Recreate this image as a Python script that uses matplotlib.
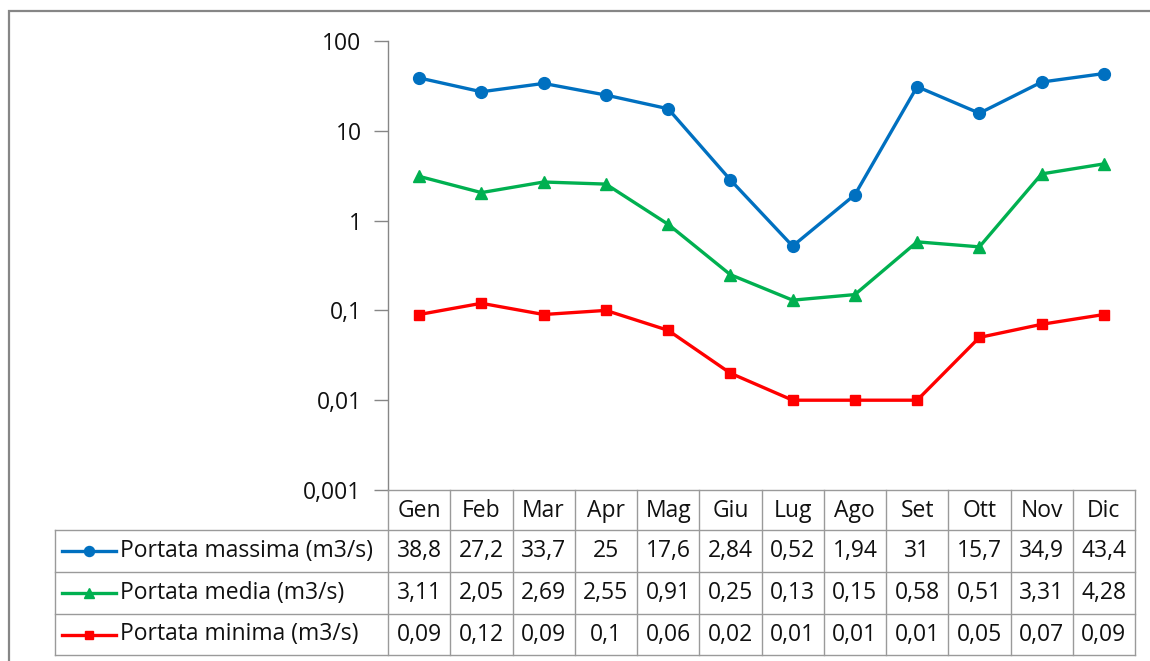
import matplotlib
matplotlib.use("Agg")
import matplotlib.pyplot as plt
from matplotlib.lines import Line2D
from matplotlib.patches import Rectangle
from matplotlib.ticker import FixedLocator, FuncFormatter, NullLocator
import matplotlib.transforms as mtransforms

months = ["Gen", "Feb", "Mar", "Apr", "Mag", "Giu", "Lug", "Ago", "Set", "Ott", "Nov", "Dic"]
portata_massima = [38.8, 27.2, 33.7, 25, 17.6, 2.84, 0.52, 1.94, 31, 15.7, 34.9, 43.4]
portata_media = [3.11, 2.05, 2.69, 2.55, 0.91, 0.25, 0.13, 0.15, 0.58, 0.51, 3.31, 4.28]
portata_minima = [0.09, 0.12, 0.09, 0.1, 0.06, 0.02, 0.01, 0.01, 0.01, 0.05, 0.07, 0.09]
series_names = ["Portata massima (m3/s)", "Portata media (m3/s)", "Portata minima (m3/s)"]
y_ticks = [0.001, 0.01, 0.1, 1, 10, 100]

colors = ["#0070C0", "#00B050", "#FF0000"]
markers = ["o", "^", "s"]
msizes = [8.5, 8.5, 6.5]
series = [portata_massima, portata_media, portata_minima]

W, H = 1150, 661
plt.rcParams['font.family'] = ['Open Sans', 'DejaVu Sans']
fig = plt.figure(figsize=(W / 100, H / 100), dpi=100)

def fx(x):
    return x / W

def fy(y):
    return 1 - y / H

# outer frame
fig.add_artist(Rectangle((fx(9), fy(700)), fx(1200), fy(11) - fy(700), transform=fig.transFigure,
                         fill=False, edgecolor="#868686", linewidth=1.6))

ax_left, ax_right, ax_top, ax_bottom = 388, 1135, 41, 490
ax = fig.add_axes([fx(ax_left), fy(ax_bottom), fx(ax_right - ax_left), fy(ax_top) - fy(ax_bottom)])

x = list(range(len(months)))
for vals, c, m, ms in zip(series, colors, markers, msizes):
    ax.plot(x, vals, color=c, linewidth=2.4, marker=m, markersize=ms, markeredgecolor=c,
            markerfacecolor=c, solid_joinstyle="round")

fs = 16.5
tc = "#111111"

ax.set_yscale("log")
ax.set_ylim(0.001, 100)
ax.set_xlim(-0.5, len(months) - 0.5)
ax.yaxis.set_major_locator(FixedLocator(y_ticks))
ax.yaxis.set_minor_locator(NullLocator())
ax.yaxis.set_major_formatter(FuncFormatter(lambda v, p: f"{v:g}".replace(".", ",")))
ax.set_xticks([])
for s in ["top", "right", "bottom"]:
    ax.spines[s].set_visible(False)
ax.spines["left"].set_color("#868686")
ax.spines["left"].set_linewidth(1.0)
ax.tick_params(axis="y", direction="out", length=10, width=1.0, color="#868686",
               labelsize=fs, pad=9, labelcolor=tc)
ax.patch.set_alpha(0)

# data table
tr = mtransforms.blended_transform_factory(ax.transData, fig.transFigure)
grid_color = "#9a9a9a"
row_lines = [490, 530, 572, 614, 655]
tab_left = 55
n = len(months)

for i in range(n + 1):
    fig.add_artist(Line2D([i - 0.5, i - 0.5], [fy(490), fy(655)], transform=tr,
                          color=grid_color, linewidth=1.0))
fig.add_artist(Line2D([-0.5, n - 0.5], [fy(490), fy(490)], transform=tr, color=grid_color, linewidth=1.0))
for yl in row_lines[1:]:
    fig.add_artist(Line2D([fx(tab_left), fx(ax_right)], [fy(yl), fy(yl)], transform=fig.transFigure,
                          color=grid_color, linewidth=1.0))
fig.add_artist(Line2D([fx(tab_left), fx(tab_left)], [fy(530), fy(655)], transform=fig.transFigure,
                      color=grid_color, linewidth=1.0))

for i, mth in enumerate(months):
    fig.text(i, fy(511), mth, transform=tr, ha="center", va="center", fontsize=fs, color=tc)

for r, (name, vals, c, m, ms) in enumerate(zip(series_names, series, colors, markers, msizes)):
    yc = fy((row_lines[r + 1] + row_lines[r + 2]) / 2)
    fig.add_artist(Line2D([fx(62), fx(116)], [yc, yc], transform=fig.transFigure, color=c, linewidth=2.4))
    fig.add_artist(Line2D([fx(89)], [yc], transform=fig.transFigure, color=c, marker=m,
                          markersize=ms * 0.85, markerfacecolor=c, markeredgecolor=c))
    fig.text(fx(120), yc, name, ha="left", va="center", fontsize=fs, color=tc)
    for i, v in enumerate(vals):
        fig.text(i, yc, f"{v:g}".replace(".", ","), transform=tr, ha="center", va="center",
                 fontsize=fs, color=tc)

fig.savefig("out.png", dpi=100, facecolor="white")
